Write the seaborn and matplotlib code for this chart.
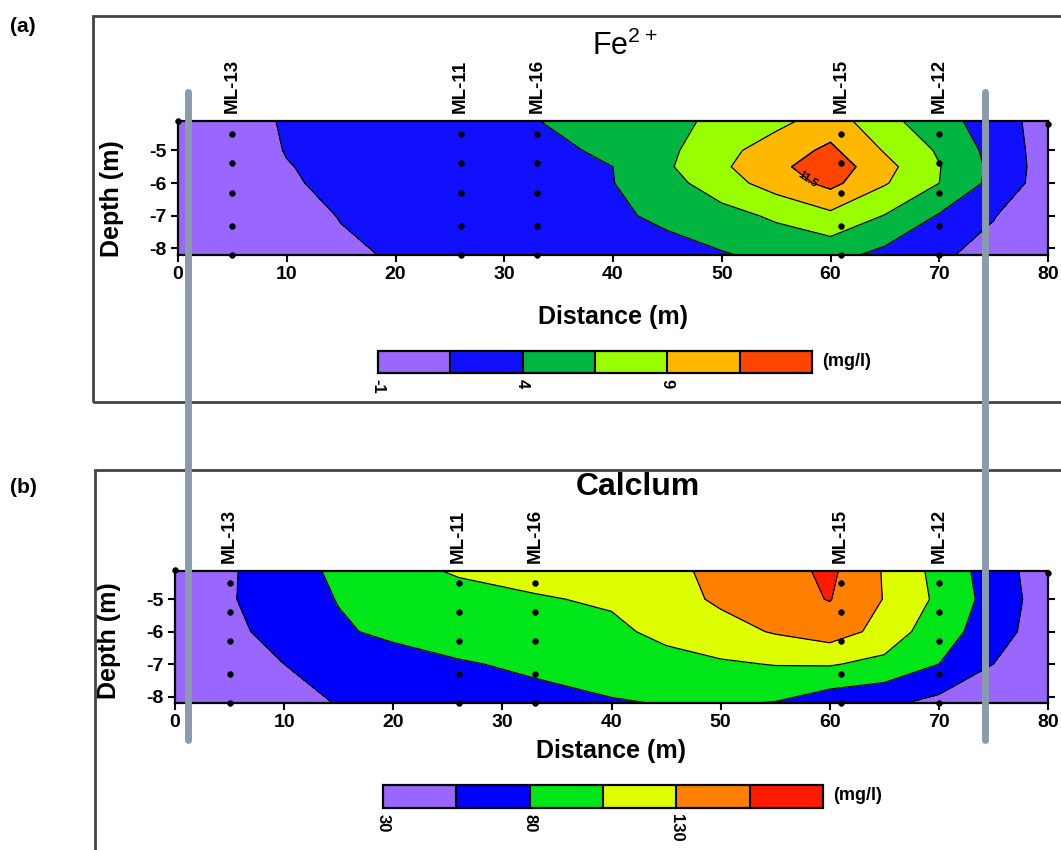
import matplotlib
matplotlib.use("Agg")
import matplotlib.pyplot as plt
import seaborn as sns
import pandas as pd
from matplotlib.patches import Rectangle
from matplotlib.lines import Line2D

# grid nodes (m)
dist_nodes = [0, 5, 10, 15, 20, 26, 33, 40, 45, 50, 55, 60, 65, 70, 75, 80]
fe_depths = [-4.1, -5.0, -5.5, -6.0, -7.0, -8.2]
ca_depths = [-4.13, -5.0, -6.0, -7.0, -8.2]

fe_values = [
    [-0.5, 0.3, 1.8, 2.3, 2.7, 3.1, 3.95, 5.1, 5.9, 7.0, 8.3, 10.2, 7.3, 4.9, 2.85, 0.25],
    [-0.5, 0.3, 1.6, 2.2, 2.6, 3.0, 3.4, 4.4, 6.0, 8.2, 10.3, 12.0, 8.8, 6.2, 3.2, 0.3],
    [-0.5, 0.2, 1.4, 2.1, 2.5, 2.9, 3.3, 4.0, 6.2, 8.6, 10.9, 13.0, 9.8, 6.6, 3.4, 0.3],
    [-0.6, 0.1, 1.2, 2.1, 2.4, 2.8, 3.2, 3.95, 5.6, 7.9, 10.1, 12.2, 9.2, 6.5, 3.3, 0.2],
    [-0.7, -0.2, 0.6, 1.6, 2.2, 2.7, 3.1, 3.75, 4.3, 5.6, 6.9, 8.4, 6.4, 3.8, 1.6, -0.2],
    [-0.8, -0.5, 0.2, 1.1, 1.7, 2.3, 2.8, 3.2, 3.5, 3.8, 4.6, 4.8, 3.3, 1.8, 0.8, -0.3],
]

ca_values = [
    [35, 52, 71, 84, 96, 108, 113, 120, 126, 134, 145, 160, 128, 97, 68, 40],
    [35, 53, 68, 81, 88, 95, 103, 108, 120, 134, 146, 156, 129, 100, 70, 42],
    [33, 48, 66, 77, 85, 91, 97, 100, 111, 121, 132, 142, 122, 88, 70.6, 35],
    [31, 42, 55, 64, 70, 78, 84, 92, 97, 102, 106, 107, 98, 80, 55, 33],
    [30.5, 38, 47, 56, 62, 68, 73, 78, 81, 82, 79, 65, 60, 48, 38, 30.5],
]

fe_levels = [-1, 1.5, 4, 6.5, 9, 11.5, 14]
ca_levels = [30, 55, 80, 105, 130, 155, 180]
fe_colors = ["#9966FF", "#1010FF", "#00B540", "#99FF00", "#FFB800", "#FF4500"]
ca_colors = ["#9966FF", "#0000FF", "#00E619", "#DDFF00", "#FF7F00", "#FF1A00"]

# multilevel sampler wells
well_names = ["ML-13", "ML-11", "ML-16", "ML-15", "ML-12"]
well_dist = [5, 26, 33, 61, 70]
sample_depths = [-4.5, -5.4, -6.3, -7.3, -8.2]

sns.set_theme(style="white")
plt.rcParams["font.family"] = ["Liberation Sans", "DejaVu Sans"]
plt.rcParams["font.weight"] = "bold"
plt.rcParams["axes.unicode_minus"] = False
plt.rcParams["mathtext.default"] = "regular"
for key in ["text.color", "axes.labelcolor", "xtick.color", "ytick.color"]:
    plt.rcParams[key] = "black"

samples = pd.DataFrame(
    [(x, d) for x in well_dist for d in sample_depths] + [(0, -4.1), (80, -4.2)],
    columns=["Distance", "Depth"],
)

W, H = 1061, 850
fig = plt.figure(figsize=(W / 100, H / 100), dpi=100)


def fx(px):
    return px / W


def fy(py):
    return 1 - py / H


def section(ax, depths, values, levels, colors, ylim):
    cf = ax.contourf(dist_nodes, depths, values, levels=levels, colors=colors)
    ax.contour(dist_nodes, depths, values, levels=levels[1:-1],
               colors="black", linewidths=0.9)
    sns.scatterplot(data=samples, x="Distance", y="Depth", color="black",
                    s=18, edgecolor=None, ax=ax, zorder=5, legend=False,
                    clip_on=False)
    ax.set_xlim(0, 80)
    ax.set_ylim(*ylim)
    ax.set_xticks(range(0, 81, 10))
    ax.set_yticks([-5, -6, -7, -8])
    ax.tick_params(direction="out", length=5, width=1.5, labelsize=14,
                   left=True, bottom=True, right=True, top=False,
                   labelright=False, pad=3)
    for s in ax.spines.values():
        s.set_color("black")
        s.set_linewidth(1.6)
    ax.set_xlabel("Distance (m)", fontsize=18, fontweight="bold")
    ax.set_ylabel("Depth (m)", fontsize=18, fontweight="bold")
    for name, x in zip(well_names, well_dist):
        ax.text(x, 1.06, name, transform=ax.get_xaxis_transform(),
                rotation=90, ha="center", va="bottom", fontsize=13.5,
                fontweight="bold")
    return cf


# panel (a): Fe2+
ax1 = fig.add_axes([fx(178), fy(255), fx(1048) - fx(178), fy(121) - fy(255)])
cf1 = section(ax1, fe_depths, fe_values, fe_levels, fe_colors, (-8.2, -4.1))
cs_top = ax1.contour(dist_nodes, fe_depths, fe_values, levels=[11.5],
                     colors="black", linewidths=0.9)
ax1.clabel(cs_top, fmt="%.1f", fontsize=8, manual=[(57.8, -5.95)])
ax1.xaxis.set_label_coords(0.5, -0.37)
ax1.yaxis.set_label_coords(-0.062, 0.42)

# panel (b): calcium
ax2 = fig.add_axes([fx(175), fy(703), fx(1048) - fx(175), fy(571) - fy(703)])
cf2 = section(ax2, ca_depths, ca_values, ca_levels, ca_colors, (-8.2, -4.13))
ax2.xaxis.set_label_coords(0.5, -0.27)
ax2.yaxis.set_label_coords(-0.062, 0.47)

# colour bars
for cf, ticks, box, ytxt in [
    (cf1, [-1, 4, 9], [378, 351, 812, 373], 362),
    (cf2, [30, 80, 130], [383, 785, 823, 808], 796),
]:
    cax = fig.add_axes([fx(box[0]), fy(box[3]), fx(box[2]) - fx(box[0]),
                        fy(box[1]) - fy(box[3])])
    cb = fig.colorbar(cf, cax=cax, orientation="horizontal", drawedges=True,
                      ticks=ticks)
    cb.outline.set_linewidth(1.6)
    cb.outline.set_edgecolor("black")
    cb.dividers.set_color("black")
    cb.dividers.set_linewidth(1.5)
    cb.ax.tick_params(length=0, labelsize=12, pad=4)
    for lbl in cb.ax.get_xticklabels():
        lbl.set_rotation(270)
        lbl.set_fontweight("bold")
        lbl.set_va("top")
    fig.text(fx(box[2] + 10), fy(ytxt), "(mg/l)", fontsize=13,
             fontweight="bold", va="center", ha="left")

# titles and panel letters
fig.text(fx(625), fy(46), r"Fe$^{2+}$", fontsize=22, fontweight="normal",
         ha="center", va="center")
fig.text(fx(638), fy(487), "Calclum", fontsize=23, fontweight="bold",
         ha="center", va="center")
fig.text(fx(10), fy(26), "(a)", fontsize=15, fontweight="bold", va="center")
fig.text(fx(10), fy(487), "(b)", fontsize=15, fontweight="bold", va="center")

# frames round each panel
fig.add_artist(Rectangle((fx(93), fy(402)), 1.0, fy(16) - fy(402),
                         transform=fig.transFigure, fill=False,
                         edgecolor="#444444", linewidth=2, clip_on=False))
fig.add_artist(Rectangle((fx(95), -0.1), 1.0, fy(470) + 0.1,
                         transform=fig.transFigure, fill=False,
                         edgecolor="#444444", linewidth=2, clip_on=False))

# grey guide lines across both panels
for px in [188, 985]:
    fig.add_artist(Line2D([fx(px), fx(px)], [fy(92), fy(740)],
                          transform=fig.transFigure, color="#8A9BAC",
                          linewidth=5, zorder=10))

fig.savefig("out.png", dpi=100)
